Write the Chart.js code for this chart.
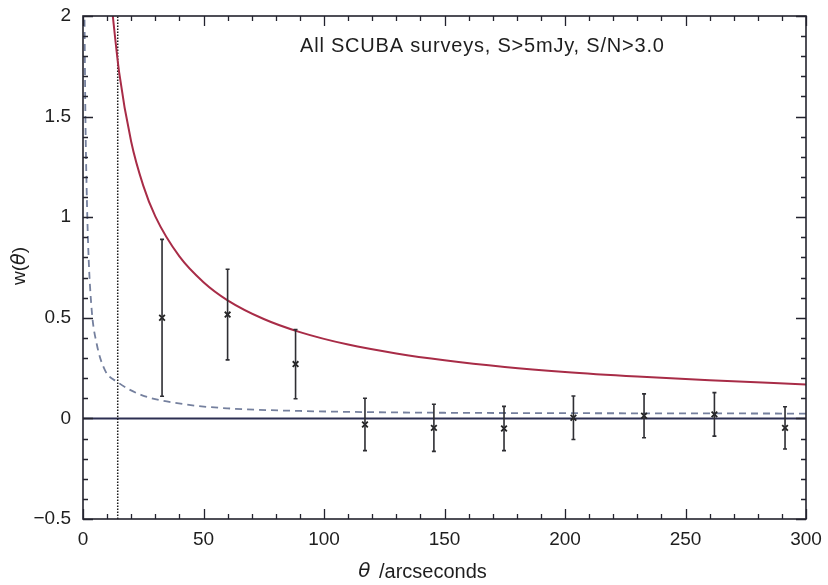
<!DOCTYPE html>
<html>
<head>
<meta charset="utf-8">
<script src="https://cdn.jsdelivr.net/npm/chart.js@4.4.1/dist/chart.umd.min.js"></script>
<style>
  html, body { margin: 0; padding: 0; background: #fff; }
  #wrap { width: 828px; height: 585px; }
</style>
</head>
<body>
<div id="wrap"><canvas id="c" width="828" height="585"></canvas></div>
<script>
// Angular correlation function measurements (bin centre, w, 1-sigma error)
const binTheta = [32.8, 60.0, 88.2, 117.0, 145.6, 174.7, 203.5, 232.8, 262.0, 291.3];
const binW     = [0.50, 0.516, 0.27, -0.03, -0.047, -0.05, 0.003, 0.013, 0.02, -0.047];
const binErr   = [0.39, 0.225, 0.172, 0.13, 0.117, 0.11, 0.108, 0.109, 0.108, 0.105];

// Power-law model curve (solid red)
const modelTheta = [12, 15, 20, 25, 30, 40, 50, 60, 75, 90, 110, 130, 150, 175, 200, 230, 260, 300];
const modelW     = [2.04, 1.72, 1.375, 1.157, 1.004, 0.805, 0.677, 0.587, 0.494, 0.429, 0.367, 0.323, 0.289, 0.256, 0.231, 0.208, 0.189, 0.169];

// Second model curve (dashed)
const dashTheta = [0.55, 1.0, 1.5, 2.2, 3.6, 5.7, 9.1, 14.4, 24.3, 42.3, 60, 90, 120, 150, 200, 250, 300];
const dashW     = [2.1, 1.5, 1.15, 0.84, 0.54, 0.37, 0.24, 0.18, 0.116, 0.07, 0.05, 0.037, 0.031, 0.028, 0.026, 0.025, 0.024];

// Reference lines
const zeroLineTheta = [0, 300];
const cutTheta = 14.4;

const xTicks = [0, 50, 100, 150, 200, 250, 300];
const yTicks = [-0.5, 0, 0.5, 1, 1.5, 2];

const pts = (xs, ys) => xs.map((x, i) => ({ x: x, y: ys[i] }));

const AXIS_COL = '#23232e';

// Frame with inward major/minor ticks on all four sides
const framePlugin = {
  id: 'frame',
  afterDatasetsDraw(chart) {
    const { ctx, chartArea: a, scales: { x, y } } = chart;
    ctx.save();
    ctx.strokeStyle = AXIS_COL;
    ctx.lineWidth = 1.6;
    ctx.strokeRect(a.left, a.top, a.right - a.left, a.bottom - a.top);
    ctx.lineWidth = 1.3;
    ctx.beginPath();
    for (let v = 0; v <= 300; v += 10) {
      const px = Math.round(x.getPixelForValue(v)) + 0.5;
      const len = (v % 50 === 0) ? 10 : 5;
      ctx.moveTo(px, a.bottom); ctx.lineTo(px, a.bottom - len);
      ctx.moveTo(px, a.top); ctx.lineTo(px, a.top + len);
    }
    for (let k = -5; k <= 20; k++) {
      const v = k / 10;
      const py = Math.round(y.getPixelForValue(v)) + 0.5;
      const len = (k % 5 === 0) ? 10 : 5;
      ctx.moveTo(a.left, py); ctx.lineTo(a.left + len, py);
      ctx.moveTo(a.right, py); ctx.lineTo(a.right - len, py);
    }
    ctx.stroke();
    ctx.restore();
  }
};

// Vertical error bars for the binned measurements
const errorBarPlugin = {
  id: 'errbars',
  afterDatasetsDraw(chart) {
    const { ctx, scales: { x, y } } = chart;
    ctx.save();
    ctx.strokeStyle = '#2e2e33';
    ctx.lineWidth = 1.6;
    ctx.beginPath();
    binTheta.forEach((t, i) => {
      const px = x.getPixelForValue(t);
      const top = y.getPixelForValue(binW[i] + binErr[i]);
      const bot = y.getPixelForValue(binW[i] - binErr[i]);
      ctx.moveTo(px, top); ctx.lineTo(px, bot);
      ctx.moveTo(px - 2, top); ctx.lineTo(px + 2, top);
      ctx.moveTo(px - 2, bot); ctx.lineTo(px + 2, bot);
    });
    ctx.stroke();
    ctx.restore();
  }
};

// Axis titles and the in-panel annotation
const textPlugin = {
  id: 'texts',
  afterDraw(chart) {
    const { ctx } = chart;
    ctx.save();
    ctx.fillStyle = '#1e1e1e';
    ctx.textBaseline = 'middle';

    // x title: italic theta + "/arcseconds"
    const fTheta = 'italic 20px "DejaVu Sans", sans-serif';
    const fRest = '20px "Liberation Sans", Arial, sans-serif';
    ctx.font = fTheta; const w1 = ctx.measureText('θ').width;
    ctx.font = fRest; const w2 = ctx.measureText(' /arcseconds').width;
    const sx = 421 - (w1 + w2) / 2;
    ctx.textAlign = 'left';
    ctx.font = fTheta; ctx.fillText('θ', sx, 572);
    ctx.font = fRest; ctx.fillText(' /arcseconds', sx + w1 + 3, 572);

    // y title: w(θ), rotated
    ctx.translate(20, 266);
    ctx.rotate(-Math.PI / 2);
    const fW = '19px "Liberation Sans", Arial, sans-serif';
    const fT = 'italic 19px "DejaVu Sans", sans-serif';
    ctx.font = fW; const a1 = ctx.measureText('w(').width;
    ctx.font = fT; const a2 = ctx.measureText('θ').width;
    ctx.font = fW; const a3 = ctx.measureText(')').width;
    const ty = -(a1 + a2 + a3) / 2;
    ctx.font = fW; ctx.fillText('w(', ty, 0);
    ctx.font = fT; ctx.fillText('θ', ty + a1, 0);
    ctx.font = fW; ctx.fillText(')', ty + a1 + a2, 0);
    ctx.setTransform(1, 0, 0, 1, 0, 0);

    // annotation
    ctx.font = '20px "Liberation Sans", Arial, sans-serif';
    ctx.letterSpacing = '0.8px';
    ctx.textAlign = 'left';
    ctx.fillText('All SCUBA surveys, S>5mJy, S/N>3.0', 300, 46);
    ctx.restore();
  }
};

new Chart(document.getElementById('c'), {
  type: 'scatter',
  data: {
    datasets: [
      {
        label: 'zero',
        type: 'line',
        data: pts(zeroLineTheta, [0, 0]),
        borderColor: '#2c2f52',
        borderWidth: 2,
        pointRadius: 0,
        order: 5
      },
      {
        label: 'cut',
        type: 'line',
        data: pts([cutTheta, cutTheta], [-0.5, 2]),
        borderColor: '#1a1a1a',
        borderWidth: 1.5,
        borderDash: [1.5, 1.5],
        pointRadius: 0,
        order: 4
      },
      {
        label: 'dashed model',
        type: 'line',
        data: pts(dashTheta, dashW),
        borderColor: '#75809e',
        borderWidth: 1.8,
        borderDash: [7, 5],
        pointRadius: 0,
        cubicInterpolationMode: 'monotone',
        order: 3
      },
      {
        label: 'power law',
        type: 'line',
        data: pts(modelTheta, modelW),
        borderColor: '#a82c47',
        borderWidth: 2,
        pointRadius: 0,
        cubicInterpolationMode: 'monotone',
        order: 2
      },
      {
        label: 'w(theta)',
        data: pts(binTheta, binW),
        pointStyle: 'crossRot',
        pointRadius: 4,
        pointBorderWidth: 1.8,
        borderColor: '#222',
        backgroundColor: '#222',
        order: 1
      }
    ]
  },
  options: {
    responsive: false,
    animation: false,
    events: [],
    layout: { padding: { left: 0, right: 22, top: 16, bottom: 0 } },
    plugins: { legend: { display: false }, tooltip: { enabled: false } },
    scales: {
      x: {
        type: 'linear',
        min: 0, max: 300,
        afterBuildTicks: s => { s.ticks = xTicks.map(v => ({ value: v })); },
        afterFit: s => { s.height = 66; s.paddingLeft = 0; s.paddingRight = 0; },
        grid: { display: false, drawTicks: false },
        border: { display: false },
        ticks: { font: { family: '"Liberation Sans", Arial, sans-serif', size: 19 }, color: '#1e1e1e', padding: 9, maxRotation: 0 }
      },
      y: {
        type: 'linear',
        min: -0.5, max: 2,
        afterBuildTicks: s => { s.ticks = yTicks.map(v => ({ value: v })); },
        afterFit: s => { s.width = 83; s.paddingTop = 0; s.paddingBottom = 0; },
        grid: { display: false, drawTicks: false },
        border: { display: false },
        ticks: {
          font: { family: '"Liberation Sans", Arial, sans-serif', size: 19 }, color: '#1e1e1e', padding: 12,
          callback: v => (v < 0 ? '\u2212' + Math.abs(v) : String(v))
        }
      }
    }
  },
  plugins: [framePlugin, errorBarPlugin, textPlugin]
});
</script>
</body>
</html>
